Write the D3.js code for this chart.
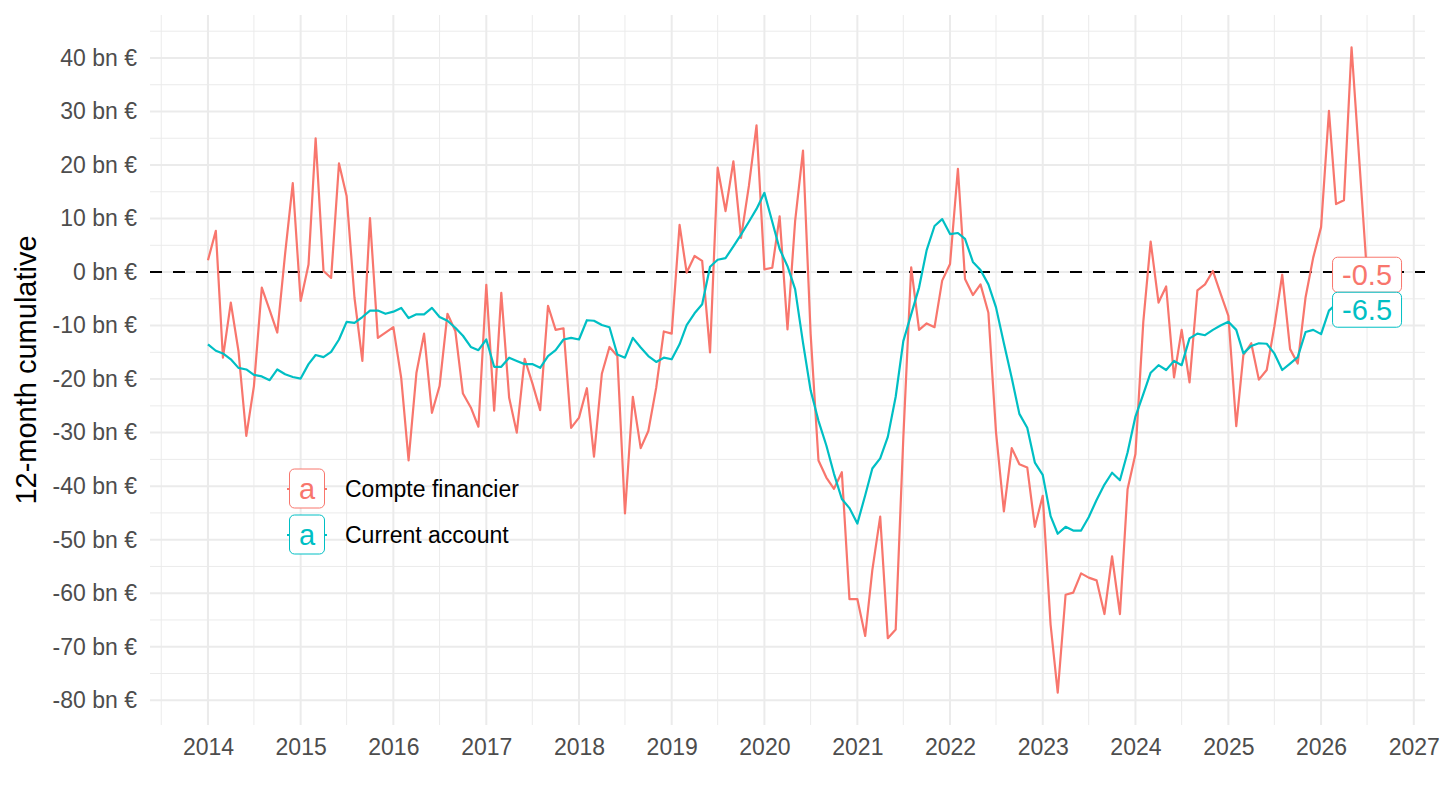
<!DOCTYPE html>
<html>
<head>
<meta charset="utf-8">
<script src="https://cdn.jsdelivr.net/npm/d3@7"></script>
<style>
  body { margin: 0; background: #fff; }
  text { font-family: "Liberation Sans", Arial, Helvetica, sans-serif; }
</style>
</head>
<body>
<svg width="1440" height="810"></svg>
<script>
// monthly values, Jan 2014 -> Jul 2026 (bn €, 12-month cumulative)
const firstMonth = new Date(2014, 0, 1);

const compteFinancier = [
  2.2, 7.7, -16, -5.7, -14.7, -30.6, -21.3, -2.9, -7.1, -11.3, 3.5, 16.6,        // 2014
  -5.4, 1.4, 25, 0.2, -1.1, 20.3, 14.2, -4.8, -16.6, 10.1, -12.3, -11.3,         // 2015
  -10.3, -19.8, -35.2, -18.8, -11.5, -26.3, -21.3, -7.8, -11.0, -22.7, -25.3, -28.9, // 2016
  -2.4, -25.9, -3.9, -23.5, -30.0, -16.2, -20.7, -25.8, -6.3, -10.8, -10.5, -29.1,   // 2017
  -27.2, -21.7, -34.5, -19.0, -14.0, -15.7, -45.1, -23.3, -32.9, -29.7, -21.6, -11.1, // 2018
  -11.5, 8.8, -0.1, 3.0, 2.1, -15.0, 19.5, 11.4, 20.7, 6.4, 16.1, 27.4,          // 2019
  0.5, 0.8, 10.4, -10.7, 9.5, 22.7, -11.5, -35.2, -38.4, -40.5, -37.4, -61.1,    // 2020
  -61.1, -68.0, -55.7, -45.7, -68.4, -66.8, -31, 0.9, -10.8, -9.6, -10.3, -1.6,  // 2021
  1.5, 19.3, -1.3, -4.3, -2.3, -7.6, -29.9, -44.7, -32.9, -35.9, -36.5, -47.6,   // 2022
  -41.8, -65.9, -78.6, -60.3, -59.9, -56.3, -57.1, -57.6, -63.9, -53.1, -63.9, -40.6, // 2023
  -34.0, -9.3, 5.7, -5.7, -2.7, -19.7, -10.8, -20.6, -3.4, -2.3, 0.2, -4.0,      // 2024
  -8.2, -28.8, -15.5, -13.3, -20.1, -18.3, -10.2, -0.5, -14.4, -17.1, -4.7, 2.7, // 2025
  8.4, 30.1, 12.7, 13.4, 42.0, 20.5, -0.5                                        // 2026
];

const currentAccount = [
  -13.5, -14.7, -15.2, -16.3, -17.9, -18.2, -19.2, -19.5, -20.2, -18.2, -19.1, -19.6, // 2014
  -19.9, -17.2, -15.5, -15.9, -14.9, -12.6, -9.3, -9.5, -8.4, -7.2, -7.2, -7.8,   // 2015
  -7.4, -6.7, -8.6, -7.9, -7.9, -6.7, -8.4, -9.1, -10.4, -11.9, -14.0, -14.6,     // 2016
  -12.6, -17.7, -17.7, -16.0, -16.6, -17.2, -17.2, -17.9, -15.7, -14.6, -12.6, -12.3, // 2017
  -12.6, -9.0, -9.1, -9.9, -10.3, -15.4, -16.0, -12.3, -14.1, -15.7, -16.8, -16.0, // 2018
  -16.3, -13.5, -9.9, -7.7, -6.0, 1.0, 2.3, 2.6, 4.8, 7.0, 9.4, 11.8,             // 2019
  14.8, 9.4, 4.3, 1.1, -3.2, -13.2, -22.1, -27.8, -32.4, -37.7, -42.4, -44.1,     // 2020
  -47.0, -41.7, -36.7, -34.8, -30.8, -23.3, -12.9, -7.9, -2.9, 4.1, 8.6, 9.9,     // 2021
  7.1, 7.3, 6.2, 1.9, 0.4, -2.3, -6.6, -13.3, -19.8, -26.5, -29.1, -35.6,         // 2022
  -37.9, -45.6, -48.9, -47.6, -48.3, -48.3, -45.8, -42.6, -39.7, -37.5, -38.9, -33.7, // 2023
  -27.0, -22.8, -18.8, -17.4, -18.3, -16.6, -17.4, -12.4, -11.5, -11.8, -10.8, -10.0, // 2024
  -9.3, -10.8, -15.2, -13.8, -13.3, -13.4, -15.2, -18.3, -17.1, -15.9, -11.2, -10.8, // 2025
  -11.6, -7.2, -6.0, -7.5, -9.5, -8.0, -6.5                                       // 2026
];

const seriesNames = ["Compte financier", "Current account"];
const seriesColors = ["#F8766D", "#00BFC4"];
const yTicks = d3.range(-80, 41, 10);
const yMinor = d3.range(-85, 50, 10);

const months = compteFinancier.map((_, i) => d3.timeMonth.offset(firstMonth, i));
const series = [compteFinancier, currentAccount].map((vals, s) => ({
  name: seriesNames[s],
  color: seriesColors[s],
  points: vals.map((v, i) => ({ date: months[i], value: v }))
}));

const svg = d3.select("svg");
const panel = { left: 150, right: 1425, top: 15, bottom: 725 };
const fontTick = "23px";

// ggplot-like 5% expansion
const t0 = months[0].getTime(), t1 = months[months.length - 1].getTime();
const tPad = (t1 - t0) * 0.05;
const xScale = d3.scaleTime()
  .domain([new Date(t0 - tPad), new Date(t1 + tPad)])
  .range([panel.left, panel.right]);

const allVals = compteFinancier.concat(currentAccount);
const [vMin, vMax] = d3.extent(allVals);
const vPad = (vMax - vMin) * 0.05;
const yScale = d3.scaleLinear()
  .domain([vMin - vPad, vMax + vPad])
  .range([panel.bottom, panel.top]);

// grid
const grid = svg.append("g");
const [d0, d1] = xScale.domain();
const yearTicks = d3.timeYear.range(d3.timeYear.ceil(d0), d1);
const midYears = d3.timeYear.range(d3.timeYear.floor(d0), d1)
  .map(d => d3.timeMonth.offset(d, 6))
  .filter(d => d >= d0 && d <= d1);

grid.selectAll(".ymin").data(yMinor.filter(v => yScale(v) >= panel.top && yScale(v) <= panel.bottom))
  .enter().append("line")
  .attr("x1", panel.left).attr("x2", panel.right)
  .attr("y1", d => yScale(d)).attr("y2", d => yScale(d))
  .attr("stroke", "#EBEBEB").attr("stroke-width", 1);

grid.selectAll(".xmin").data(midYears)
  .enter().append("line")
  .attr("x1", d => xScale(d)).attr("x2", d => xScale(d))
  .attr("y1", panel.top).attr("y2", panel.bottom)
  .attr("stroke", "#EBEBEB").attr("stroke-width", 1);

grid.selectAll(".ymaj").data(yTicks)
  .enter().append("line")
  .attr("x1", panel.left).attr("x2", panel.right)
  .attr("y1", d => yScale(d)).attr("y2", d => yScale(d))
  .attr("stroke", "#EBEBEB").attr("stroke-width", 2);

grid.selectAll(".xmaj").data(yearTicks)
  .enter().append("line")
  .attr("x1", d => xScale(d)).attr("x2", d => xScale(d))
  .attr("y1", panel.top).attr("y2", panel.bottom)
  .attr("stroke", "#EBEBEB").attr("stroke-width", 2);

// axes
const yAxis = svg.append("g")
  .attr("transform", `translate(${panel.left},0)`)
  .call(d3.axisLeft(yScale).tickValues(yTicks).tickSize(0).tickPadding(13)
    .tickFormat(d => String(d) + " bn €"));
const xAxis = svg.append("g")
  .attr("transform", `translate(0,${panel.bottom})`)
  .call(d3.axisBottom(xScale).tickValues(yearTicks).tickSize(0).tickPadding(14)
    .tickFormat(d3.timeFormat("%Y")));
[yAxis, xAxis].forEach(a => {
  a.select(".domain").remove();
  a.selectAll("text")
    .attr("fill", "#4D4D4D")
    .style("font-size", fontTick)
    .style("font-family", '"Liberation Sans", Arial, Helvetica, sans-serif');
});

svg.append("text")
  .attr("transform", `translate(36,${(panel.top + panel.bottom) / 2}) rotate(-90)`)
  .attr("text-anchor", "middle")
  .style("font-size", "29px")
  .attr("fill", "#000")
  .text("12-month cumulative");

// zero line
svg.append("line")
  .attr("x1", panel.left).attr("x2", panel.right)
  .attr("y1", yScale(0)).attr("y2", yScale(0))
  .attr("stroke", "#000").attr("stroke-width", 2)
  .attr("stroke-dasharray", "12,11");

// series lines
const line = d3.line().x(d => xScale(d.date)).y(d => yScale(d.value));
svg.selectAll(".series").data(series)
  .enter().append("path")
  .attr("d", d => line(d.points))
  .attr("fill", "none")
  .attr("stroke", d => d.color)
  .attr("stroke-width", 2.2)
  .attr("stroke-linejoin", "round");

// end labels (simple vertical repel)
const boxH = 35, boxW = 69;
const ends = series.map(s => {
  const p = s.points[s.points.length - 1];
  return { s, p, x: xScale(p.date), y: yScale(p.value) };
}).sort((a, b) => a.y - b.y);
for (let i = 1; i < ends.length; i++) {
  if (ends[i].y < ends[i - 1].y + boxH) ends[i].y = ends[i - 1].y + boxH;
}
const lab = svg.selectAll(".endlab").data(ends).enter().append("g")
  .attr("transform", d => `translate(${d.x},${d.y})`);
lab.append("rect")
  .attr("x", -boxW / 2).attr("y", -boxH / 2)
  .attr("width", boxW).attr("height", boxH)
  .attr("rx", 5).attr("ry", 5)
  .attr("fill", "#fff")
  .attr("stroke", d => d.s.color).attr("stroke-width", 1);
lab.append("text")
  .attr("text-anchor", "middle")
  .attr("dy", "0.36em")
  .style("font-size", "29px")
  .attr("fill", d => d.s.color)
  .text(d => d3.format(".1f")(d.p.value).replace("−", "-"));

// legend
const legend = svg.append("g").attr("transform", "translate(307,489)");
const item = legend.selectAll(".item").data(series).enter().append("g")
  .attr("transform", (d, i) => `translate(0,${i * 46})`);
item.append("line")
  .attr("x1", -20).attr("x2", 20)
  .attr("stroke", d => d.color).attr("stroke-width", 2);
item.append("rect")
  .attr("x", -17.5).attr("y", -20).attr("width", 35).attr("height", 39)
  .attr("rx", 5).attr("ry", 5)
  .attr("fill", "#fff")
  .attr("stroke", d => d.color).attr("stroke-width", 1);
item.append("text")
  .attr("text-anchor", "middle").attr("dy", "0.36em")
  .style("font-size", "29px")
  .attr("fill", d => d.color)
  .text("a");
item.append("text")
  .attr("x", 38).attr("dy", "0.36em")
  .style("font-size", fontTick)
  .attr("fill", "#000")
  .text(d => d.name);
</script>
</body>
</html>
